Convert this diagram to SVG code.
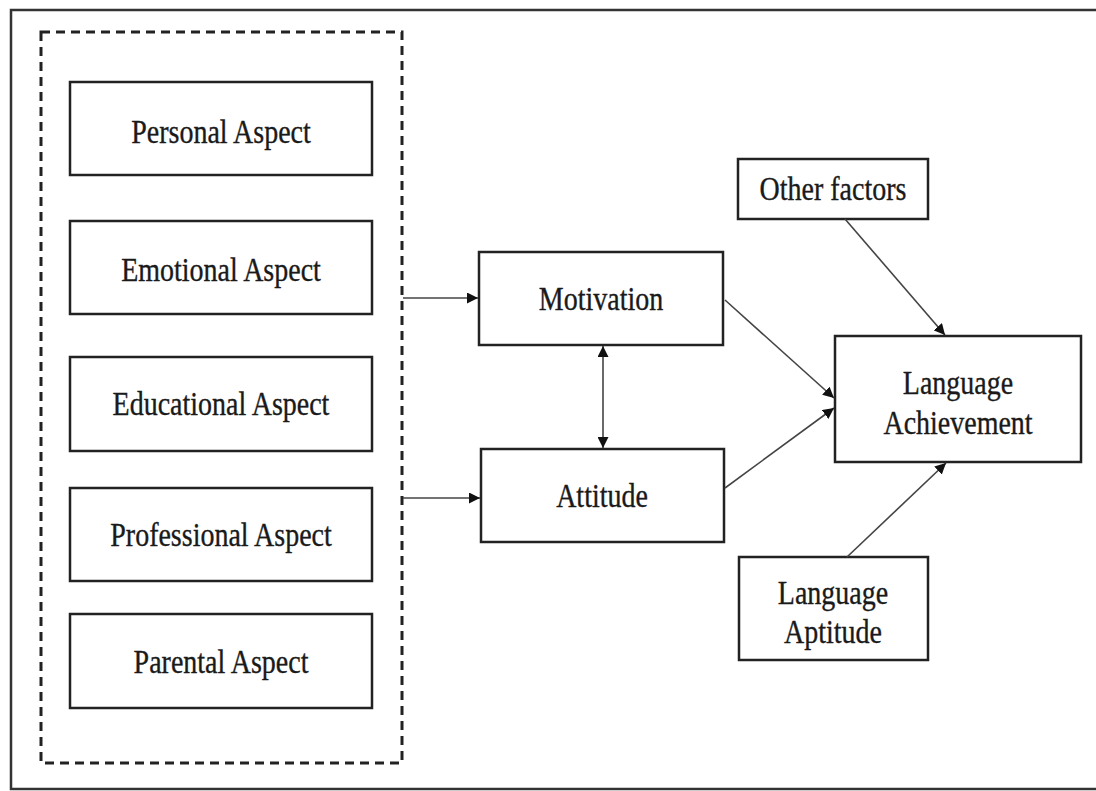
<svg xmlns="http://www.w3.org/2000/svg" width="1096" height="791" viewBox="0 0 1096 791">
<defs>
<style>
.box{fill:#fff;stroke:#222;stroke-width:2.5}
.t{font-family:"Liberation Serif","Times New Roman",serif;font-size:28px;fill:#1a1a1a;text-anchor:middle;stroke:#1a1a1a;stroke-width:0.3}
.c{stroke:#444;stroke-width:1.6;fill:none}
</style>
<marker id="ah" viewBox="0 0 10 10" refX="10" refY="5" markerWidth="11" markerHeight="11" markerUnits="userSpaceOnUse" orient="auto-start-reverse">
<path d="M0,0 L10,5 L0,10 z" fill="#111"/>
</marker>
</defs>
<rect x="0" y="0" width="1096" height="791" fill="#fff"/>
<path d="M1096,10 H11 V789 H1096" fill="none" stroke="#333" stroke-width="2.5"/>
<g id="group-aspects">
<rect x="41" y="32" width="361" height="731" fill="none" stroke="#222" stroke-width="3" stroke-dasharray="9,6"/>
</g>
<g id="personal"><rect class="box" x="70" y="82" width="302" height="93"/><text class="t" transform="translate(221,143) scale(1,1.2)">Personal Aspect</text></g>
<g id="emotional"><rect class="box" x="70" y="221" width="302" height="93"/><text class="t" transform="translate(221,281) scale(1,1.2)">Emotional Aspect</text></g>
<g id="educational"><rect class="box" x="70" y="357" width="302" height="94"/><text class="t" transform="translate(221,415) scale(1,1.2)">Educational Aspect</text></g>
<g id="professional"><rect class="box" x="70" y="488" width="302" height="93"/><text class="t" transform="translate(221,546) scale(1,1.2)">Professional Aspect</text></g>
<g id="parental"><rect class="box" x="70" y="614" width="302" height="94"/><text class="t" transform="translate(221,673) scale(1,1.2)">Parental Aspect</text></g>
<g id="motivation"><rect class="box" x="479" y="252" width="244" height="93"/><text class="t" transform="translate(601,310) scale(1,1.2)">Motivation</text></g>
<g id="attitude"><rect class="box" x="481" y="449" width="243" height="93"/><text class="t" transform="translate(602,507) scale(1,1.2)">Attitude</text></g>
<g id="other"><rect class="box" x="738" y="159" width="190" height="60"/><text class="t" transform="translate(833,200) scale(1,1.2)">Other factors</text></g>
<g id="achievement"><rect class="box" x="835" y="336" width="246" height="126"/><text class="t" transform="translate(958,394) scale(1,1.2)">Language</text><text class="t" transform="translate(958,434) scale(1,1.2)">Achievement</text></g>
<g id="aptitude"><rect class="box" x="739" y="557" width="189" height="103"/><text class="t" transform="translate(833,604) scale(1,1.2)">Language</text><text class="t" transform="translate(833,643) scale(1,1.2)">Aptitude</text></g>
<g id="connectors">
<line class="c" x1="403" y1="298" x2="478" y2="298" marker-end="url(#ah)"/>
<line class="c" x1="403" y1="498" x2="480" y2="498" marker-end="url(#ah)"/>
<line class="c" x1="603" y1="346" x2="603" y2="448" marker-start="url(#ah)" marker-end="url(#ah)"/>
<line class="c" x1="725" y1="300" x2="834" y2="398" marker-end="url(#ah)"/>
<line class="c" x1="725" y1="488" x2="834" y2="408" marker-end="url(#ah)"/>
<line class="c" x1="845" y1="219" x2="945" y2="335" marker-end="url(#ah)"/>
<line class="c" x1="847" y1="557" x2="946" y2="463" marker-end="url(#ah)"/>
</g>
</svg>
